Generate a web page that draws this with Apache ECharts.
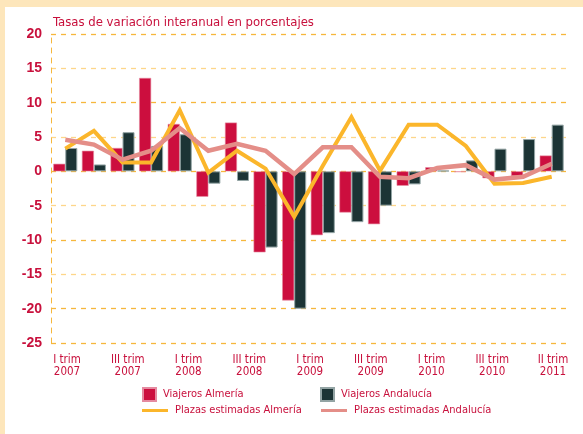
<!DOCTYPE html>
<html>
<head>
<meta charset="utf-8">
<script src="https://cdn.jsdelivr.net/npm/echarts@6/dist/echarts.min.js"></script>
<style>
  html, body { margin: 0; padding: 0; background: #fff; }
  #chart { width: 583px; height: 434px; }
</style>
</head>
<body>
<div id="chart"></div>
<script>
// quarters, I trim 2007 .. II trim 2011
const quarters = ['I 2007', 'II 2007', 'III 2007', 'IV 2007', 'I 2008', 'II 2008', 'III 2008', 'IV 2008',
  'I 2009', 'II 2009', 'III 2009', 'IV 2009', 'I 2010', 'II 2010', 'III 2010', 'IV 2010', 'I 2011', 'II 2011'];

// tick labels under the axis (spread evenly, as in the original)
const tickLabels = ['I trim\n2007', 'III trim\n2007', 'I trim\n2008', 'III trim\n2008', 'I trim\n2009',
  'III trim\n2009', 'I trim\n2010', 'III trim\n2010', 'II trim\n2011'];

const viajerosAlmeria = [1.1, 3.0, 3.4, 13.6, 6.9, -3.7, 7.1, -11.8, -18.8, -9.3, -6.0, -7.7, -2.1, 0.6, -0.1, -1.0, -0.7, 2.3];
const viajerosAndalucia = [3.4, 1.0, 5.7, 3.7, 5.4, -1.8, -1.4, -11.1, -20.0, -9.0, -7.4, -5.0, -1.9, 0.1, 1.6, 3.3, 4.7, 6.8];
const plazasAlmeria = [3.3, 5.9, 1.3, 1.3, 8.9, -0.2, 3.0, 0.4, -6.6, 0.8, 7.9, 0.1, 6.8, 6.8, 3.7, -1.8, -1.7, -0.8];
const plazasAndalucia = [4.6, 3.9, 1.7, 3.0, 6.3, 3.0, 4.0, 3.0, -0.4, 3.5, 3.5, -0.8, -1.0, 0.5, 0.9, -1.2, -0.8, 1.1];

const crimson = '#c8103c';
const narrow = '"Liberation Sans Narrow", "DejaVu Sans Condensed", sans-serif';
const gridDark = '#f6b73c';
const gridLight = '#fdd68a';

function legendItem(name, left, top, icon, w, h) {
  return {
    left: left, top: top, padding: 0,
    data: [{ name: name, icon: icon }],
    itemWidth: w, itemHeight: h, itemGap: 0,
    textStyle: { color: crimson, fontFamily: narrow, fontSize: 11, padding: [0, 0, 0, 2] }
  };
}

const option = {
  animation: false,
  backgroundColor: '#fff',
  graphic: [
    { type: 'rect', left: 0, top: 0, shape: { width: 583, height: 7 }, style: { fill: '#fde6bb' }, silent: true },
    { type: 'rect', left: 0, top: 0, shape: { width: 5, height: 434 }, style: { fill: '#fde6bb' }, silent: true }
  ],
  title: {
    text: 'Tasas de variación interanual en porcentajes',
    left: 48, top: 11,
    textStyle: { color: crimson, fontFamily: narrow, fontSize: 13, fontWeight: 'normal' }
  },
  legend: [
    legendItem('Viajeros Almería', 142, 387, 'rect', 13, 13),
    legendItem('Viajeros Andalucía', 320, 387, 'rect', 13, 13),
    legendItem('Plazas estimadas Almería', 142, 405, 'rect', 26, 3),
    legendItem('Plazas estimadas Andalucía', 321, 405, 'rect', 26, 3)
  ],
  grid: [
    { left: 51, right: 17, top: 34, bottom: 91 },
    { left: 67, right: 30, top: 34, bottom: 91 }
  ],
  xAxis: [
    {
      type: 'category', gridIndex: 0, data: quarters,
      axisLine: { show: false }, axisTick: { show: false }, axisLabel: { show: false }
    },
    {
      type: 'category', gridIndex: 1, data: tickLabels, boundaryGap: false,
      axisLine: { show: false }, axisTick: { show: false },
      axisLabel: { color: crimson, fontFamily: narrow, fontSize: 11.5, lineHeight: 12, margin: 11, interval: 0 }
    }
  ],
  yAxis: [
    {
      type: 'value', gridIndex: 0, min: -25, max: 20, interval: 5,
      axisLine: { show: true, lineStyle: { color: gridDark, type: [5, 5], width: 1 } },
      axisTick: { show: false },
      axisLabel: { color: crimson, fontFamily: '"Liberation Sans", Arial, sans-serif', fontSize: 14, fontWeight: 'bold', margin: 9 },
      splitLine: {
        show: true,
        lineStyle: {
          type: [5, 5], width: 1.3,
          color: [gridDark, gridDark, gridLight, gridDark, gridLight, gridDark, gridLight, gridDark, gridLight, gridDark]
        }
      }
    },
    { type: 'value', gridIndex: 1, min: -25, max: 20, show: false }
  ],
  series: [
    {
      name: 'Viajeros Almería', type: 'bar', data: viajerosAlmeria,
      barWidth: 12, barGap: '0%',
      itemStyle: { color: '#cc0e3e', borderColor: '#e58aa0', borderWidth: 0.6 }
    },
    {
      name: 'Viajeros Andalucía', type: 'bar', data: viajerosAndalucia,
      barWidth: 12, barGap: '0%',
      itemStyle: { color: '#1c3435', borderColor: '#93a4a4', borderWidth: 1 }
    },
    {
      name: 'Plazas estimadas Almería', type: 'line', data: plazasAlmeria,
      symbol: 'none', itemStyle: { color: '#fbb62b' },
      lineStyle: { color: '#fbb62b', width: 4, join: 'miter' }
    },
    {
      name: 'Plazas estimadas Andalucía', type: 'line', data: plazasAndalucia,
      symbol: 'none', itemStyle: { color: '#e48e88' },
      lineStyle: { color: '#e48e88', width: 4.5, join: 'miter' }
    }
  ]
};

const chart = echarts.init(document.getElementById('chart'));
chart.setOption(option);
</script>
</body>
</html>
